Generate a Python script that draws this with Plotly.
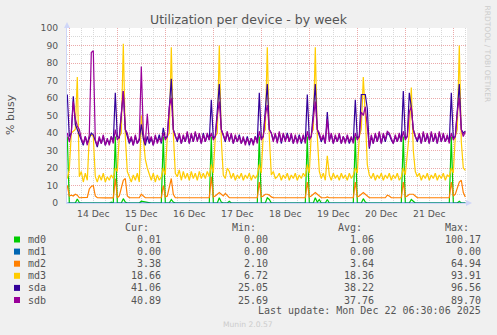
import plotly.graph_objects as go
import pandas as pd

# ---------------- data (hourly samples, starting 2025-12-13 23:00) ----------------
names = ["md0", "md1", "md2", "md3", "sda", "sdb"]
colors = ["#00CC00", "#0066B3", "#FF8000", "#FFCC00", "#330099", "#990099"]

md0 = [
    38, 0, 0, 0, 0, 2.3, 0.3, 0, 0, 0, 0, 0, 0, 0, 0, 0, 0, 0, 0, 0, 0, 0, 0.5, 0,
    38, 0, 0, 0, 2.5, 0.5, 0, 0, 0, 0, 0, 0, 0, 1, 0.8, 0.5, 0, 0, 0, 0, 0, 0, 0, 0,
    38, 0, 0, 0, 2, 0.5, 0, 0, 0, 0, 0, 0, 0, 0, 0, 0, 0, 0, 0, 0, 0, 0, 0, 0,
    38, 0, 0, 0, 3, 0.5, 0, 0, 0, 1, 0, 0, 0, 0, 0, 0, 0, 0, 0, 0, 0, 0, 0, 0,
    38, 0, 0, 0, 3, 2, 0, 0, 0, 0, 0, 0, 0, 0, 0, 0, 0, 0, 0, 0, 0, 0, 0, 0,
    38, 0, 0, 0, 3, 0.5, 2, 0, 0, 0, 2, 0, 0, 0, 0, 0, 0, 0, 0, 0, 0, 0, 0, 0,
    38, 0, 0, 0, 2.5, 0.5, 0, 0, 0, 0, 0, 0, 0, 0, 0, 0, 0, 0, 0, 0, 0, 0, 0, 0,
    38, 0, 0, 0, 2, 1, 0, 0, 0, 0, 0, 0, 0, 0, 0, 0, 0, 0, 0, 0, 0, 0, 0, 0,
    38, 0, 0, 0, 1, 0, 0, 0.01,
]
md1 = [0.0] * 200
md2 = [
    10, 4, 4.5, 4, 5, 4.5, 3, 3, 2.8, 3, 3.2, 8, 9.5, 10, 4, 3, 2.9, 3, 3.1, 2.9, 3, 3, 3, 2.9,
    14, 3, 4, 9, 13, 14, 4, 3, 3, 2.9, 3, 3, 3, 5, 4, 3, 3, 3, 2.9, 3, 3.1, 3, 2.9, 3,
    10, 3.5, 4, 10, 14, 5, 3, 3, 3, 3, 2.9, 3, 3.1, 3, 3, 3, 2.9, 3, 3, 3, 3, 3, 2.9, 3,
    15, 3.5, 4, 5, 6, 5, 4, 5.5, 4, 3, 3, 3.1, 3, 2.9, 3, 3, 3, 3, 3, 2.9, 3, 3, 3, 3,
    12, 3.5, 4, 5, 5, 4.5, 3.5, 3, 3, 3, 2.9, 3, 3, 3, 3, 2.9, 3, 3, 3, 3, 3, 2.9, 3, 3,
    12, 3.5, 4, 5, 6, 5, 4, 3, 3, 3, 3.5, 3, 3, 2.9, 3, 3, 3, 3, 2.9, 3, 3, 3, 3, 3,
    12, 3.5, 4, 5, 6, 5, 4, 3, 3, 3, 3, 3, 2.9, 3, 3, 3, 4.5, 4, 3, 3, 3, 2.9, 3, 3,
    12, 3.5, 4, 5, 5, 5, 4, 3, 3, 3, 3, 2.9, 3, 3, 3, 3, 3, 2.9, 3, 3, 3, 3, 3, 3,
    12, 4, 5, 9, 12, 13, 6, 3.38,
]
md3 = [
    14, 19, 40, 41, 42, 72, 15, 18, 12, 17, 13, 38, 39, 38, 15, 12, 16, 13, 17, 12, 15, 13, 16, 14,
    20, 18, 38, 40, 91, 38, 18, 15, 12, 16, 13, 17, 12, 50, 35, 25, 20, 16, 13, 17, 12, 16, 13, 15,
    20, 16, 38, 40, 89, 40, 17, 15, 19, 13, 18, 14, 17, 13, 18, 14, 17, 13, 18, 14, 17, 14, 18, 15,
    22, 17, 38, 40, 90, 36, 16, 14, 20, 18, 14, 17, 13, 16, 14, 17, 13, 16, 14, 17, 13, 16, 14, 16,
    22, 17, 40, 42, 89, 38, 16, 18, 14, 15, 17, 13, 16, 14, 17, 13, 16, 14, 17, 13, 16, 14, 17, 15,
    22, 17, 40, 42, 89, 38, 18, 14, 17, 13, 27, 16, 13, 17, 14, 16, 13, 17, 14, 16, 13, 17, 14, 16,
    20, 17, 38, 42, 72, 50, 22, 16, 14, 17, 13, 16, 14, 17, 13, 16, 14, 17, 13, 16, 14, 17, 13, 15,
    20, 16, 30, 40, 66, 30, 18, 15, 17, 13, 16, 14, 17, 13, 16, 14, 17, 13, 16, 14, 17, 13, 16, 15,
    20, 17, 38, 42, 90, 35, 20, 18.66,
]
sda = [
    62, 38, 40, 61, 45, 42, 40, 36, 33, 38, 34, 37, 40, 39, 35, 32, 37, 34, 38, 33, 36, 34, 38, 35,
    63, 38, 37, 50, 64, 42, 38, 34, 37, 33, 38, 34, 36, 45, 37, 33, 38, 34, 37, 33, 38, 35, 39, 34,
    43, 37, 38, 55, 71, 42, 38, 35, 39, 34, 38, 35, 40, 34, 39, 35, 40, 36, 39, 34, 40, 35, 39, 36,
    59, 37, 38, 52, 68, 42, 38, 35, 40, 36, 39, 34, 38, 35, 39, 34, 37, 34, 38, 33, 37, 34, 38, 35,
    63, 37, 38, 52, 68, 42, 40, 36, 39, 35, 40, 34, 39, 36, 40, 35, 39, 34, 38, 35, 39, 34, 38, 35,
    62, 37, 38, 52, 68, 42, 39, 35, 38, 34, 52, 36, 39, 34, 38, 35, 39, 34, 38, 35, 38, 34, 37, 35,
    59, 37, 38, 62, 62, 62, 54, 31, 38, 34, 39, 35, 40, 34, 39, 35, 40, 39, 36, 34, 38, 35, 39, 35,
    64, 37, 38, 63, 55, 42, 38, 35, 39, 34, 40, 35, 39, 34, 40, 35, 39, 34, 40, 35, 39, 35, 38, 35,
    63, 37, 38, 55, 68, 42, 40, 41.06,
]
sdb = [
    40, 35, 40, 58, 48, 44, 42, 37, 34, 38, 33, 39, 86, 87, 36, 33, 38, 34, 39, 33, 37, 33, 38, 34,
    42, 36, 38, 52, 64, 42, 40, 35, 38, 33, 39, 34, 37, 78, 40, 34, 51, 35, 38, 33, 39, 34, 37, 35,
    40, 36, 38, 55, 60, 42, 38, 36, 40, 34, 39, 35, 41, 34, 40, 35, 41, 35, 40, 34, 39, 35, 40, 36,
    40, 36, 38, 50, 58, 42, 39, 36, 41, 35, 40, 34, 39, 35, 38, 34, 38, 33, 37, 34, 37, 33, 38, 34,
    41, 36, 38, 50, 56, 42, 40, 35, 40, 34, 41, 35, 40, 35, 39, 35, 40, 34, 39, 34, 38, 35, 39, 34,
    41, 36, 38, 50, 58, 42, 40, 36, 39, 34, 48, 35, 40, 34, 39, 35, 40, 34, 38, 34, 39, 35, 38, 34,
    40, 36, 38, 52, 50, 55, 45, 32, 39, 34, 40, 35, 41, 34, 40, 36, 41, 40, 37, 34, 39, 35, 40, 35,
    41, 36, 38, 52, 55, 42, 38, 36, 40, 34, 41, 35, 40, 34, 41, 35, 40, 34, 41, 35, 40, 35, 39, 34,
    40, 36, 38, 52, 60, 42, 38, 40.89,
]
series = [md0, md1, md2, md3, sda, sdb]

cur_vals = ["0.01", "0.00", "3.38", "18.66", "41.06", "40.89"]
min_vals = ["0.00", "0.00", "2.10", "6.72", "25.05", "25.69"]
avg_vals = ["1.06", "0.00", "3.64", "18.36", "38.22", "37.76"]
max_vals = ["100.17", "0.00", "64.94", "93.91", "96.56", "89.70"]

start_time = pd.Timestamp("2025-12-13 23:00")
x_range = ["2025-12-13 22:51", "2025-12-22 06:51"]
title_text = "Utilization per device - by week"
last_update = "Last update: Mon Dec 22 06:30:06 2025"

# ---------------- figure ----------------
W, H = 497, 335
L, R, T, B = 67, 467, 28, 203
FONT = "DejaVu Sans"
MONO = "DejaVu Sans Mono"
TXT = "#555555"


def px(x):
    return (x - L) / (R - L)


def py(y):
    return (B - y) / (B - T)


times = pd.date_range(start_time, periods=len(sda), freq="h")

fig = go.Figure()
for name, col, vals in zip(names, colors, series):
    fig.add_trace(go.Scatter(x=times, y=vals, mode="lines", name=name,
                             line=dict(color=col, width=1.2, shape="linear"),
                             hoverinfo="skip"))

MGRID = "#EBA9A9"
GRID = "#D8D8D8"
fig.update_layout(
    width=W, height=H,
    margin=dict(l=L, r=W - R, t=T, b=H - B),
    paper_bgcolor="#F0F0F0", plot_bgcolor="#FFFFFF",
    showlegend=False,
    font=dict(family=FONT, color=TXT, size=9.2),
    title=dict(text=title_text, x=0.5, xanchor="center", y=1 - 20 / H, yanchor="middle",
               font=dict(family=FONT, size=12.5, color=TXT)),
    xaxis=dict(type="date", range=x_range, tick0="2025-12-14", dtick=86400000,
               ticklabelmode="period", tickformat="%d %b", ticks="",
               showgrid=True, gridcolor=MGRID, griddash="1px,1px", gridwidth=1,
               minor=dict(tick0="2025-12-14", dtick=6 * 3600000, showgrid=True,
                          gridcolor=GRID, griddash="1px,1px", gridwidth=1),
               showline=True, linecolor="#CFD6F8", linewidth=1, zeroline=False,
               tickfont=dict(family=FONT, size=9.2, color=TXT), ticklabelstandoff=2),
    yaxis=dict(range=[0, 100], dtick=10, ticks="",
               showgrid=True, gridcolor=MGRID, griddash="1px,1px", gridwidth=1,
               minor=dict(dtick=5, showgrid=True, gridcolor=GRID, griddash="1px,1px", gridwidth=1),
               showline=True, linecolor="#CFD6F8", linewidth=1, zeroline=False,
               tickfont=dict(family=FONT, size=9.2, color=TXT), ticklabelstandoff=6),
)

shapes = []
# axis arrows
shapes.append(dict(type="path", xref="paper", yref="paper",
                   path=f"M {px(466)} {py(200)} L {px(472)} {py(203)} L {px(466)} {py(206)} Z",
                   fillcolor="#CFD6F8", line=dict(width=0)))
shapes.append(dict(type="path", xref="paper", yref="paper",
                   path=f"M {px(64)} {py(28)} L {px(67)} {py(22)} L {px(70)} {py(28)} Z",
                   fillcolor="#CFD6F8", line=dict(width=0)))

ann = []
# y-axis title
ann.append(dict(text="% busy", x=px(10), y=py(115), xref="paper", yref="paper",
                showarrow=False, textangle=-90, xanchor="center", yanchor="middle",
                font=dict(family=FONT, size=11, color=TXT)))
# side watermark
ann.append(dict(text="RRDTOOL / TOBI OETIKER", x=px(487), y=py(53.5), xref="paper", yref="paper",
                showarrow=False, textangle=90, xanchor="center", yanchor="middle",
                font=dict(family=FONT, size=7.5, color="#CCCCCC")))
ann.append(dict(text="Munin 2.0.57", x=px(248.3), y=py(324.3), xref="paper", yref="paper",
                showarrow=False, xanchor="center", yanchor="middle",
                font=dict(family=FONT, size=7.6, color="#CCCCCC")))

# legend table
col_right = [163, 269.5, 376, 482.5]
headers = ["Cur:", "Min:", "Avg:", "Max:"]
row_y = [239.5, 251.6, 263.7, 275.8, 287.9, 300.0]
mono = dict(family=MONO, size=10, color=TXT)
for xr, h in zip(col_right, headers):
    ann.append(dict(text=h, x=px(xr - 12), y=py(227.5), xref="paper", yref="paper",
                    showarrow=False, xanchor="right", yanchor="middle", font=mono))
for k, name in enumerate(names):
    yk = row_y[k]
    shapes.append(dict(type="rect", xref="paper", yref="paper",
                       x0=px(14), x1=px(20), y0=py(yk + 3), y1=py(yk - 3),
                       fillcolor=colors[k], line=dict(width=0)))
    ann.append(dict(text=name, x=px(26), y=py(yk), xref="paper", yref="paper",
                    showarrow=False, xanchor="left", yanchor="middle", font=mono))
    for xr, vals in zip(col_right, [cur_vals, min_vals, avg_vals, max_vals]):
        ann.append(dict(text=vals[k], x=px(xr), y=py(yk), xref="paper", yref="paper",
                        showarrow=False, xanchor="right", yanchor="middle", font=mono))
ann.append(dict(text=last_update, x=px(482.5), y=py(310), xref="paper", yref="paper",
                showarrow=False, xanchor="right", yanchor="middle", font=mono))

fig.update_layout(shapes=shapes, annotations=ann)
fig.write_html("out.html")
